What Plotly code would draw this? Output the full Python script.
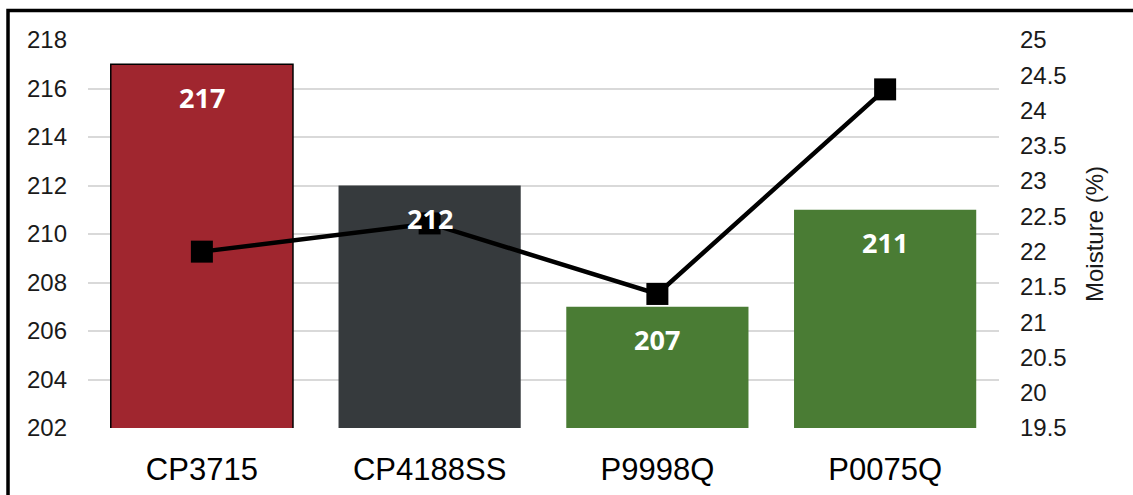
import plotly.graph_objects as go

categories = ["CP3715", "CP4188SS", "P9998Q", "P0075Q"]
yield_values = [217, 212, 207, 211]
moisture_values = [22.0, 22.4, 21.4, 24.3]
bar_colors = ["#A0262F", "#363A3D", "#4A7C34", "#4A7C34"]
bar_outline = [1.5, 0, 0, 0]

left_ticks = list(range(202, 219, 2))
right_ticks = [19.5 + 0.5 * i for i in range(12)]

fig = go.Figure()
fig.add_trace(go.Bar(
    x=categories, y=yield_values,
    marker=dict(color=bar_colors, line=dict(color="black", width=bar_outline)),
    width=0.8, yaxis="y", showlegend=False, hoverinfo="skip",
))
fig.add_trace(go.Scatter(
    x=categories, y=moisture_values, yaxis="y2", mode="lines+markers",
    line=dict(color="black", width=4.5),
    marker=dict(symbol="square", size=22, color="black"),
    showlegend=False,
))

for c, v in zip(categories, yield_values):
    fig.add_annotation(x=c, y=v, xref="x", yref="y", text=f"<b>{v}</b>",
                       showarrow=False, yshift=-33,
                       font=dict(family="Open Sans", size=27, color="white"))

fig.add_shape(type="rect", xref="paper", yref="paper",
              x0=-0.0878, x1=1.3, y0=-0.5, y1=1.076,
              line=dict(color="black", width=3.5), fillcolor="rgba(0,0,0,0)")

tick_font = dict(family="Liberation Sans, Arial", size=24, color="#1a1a1a")
fig.update_layout(
    width=1133, height=495,
    margin=dict(l=88, r=134, t=40, b=67),
    paper_bgcolor="white", plot_bgcolor="white",
    bargap=0.2,
    xaxis=dict(showgrid=False, showline=False, ticks="", automargin=False,
               tickfont=dict(family="Liberation Sans, Arial", size=31, color="black"),
               ticklabelstandoff=20),
    yaxis=dict(range=[202, 218], tickvals=left_ticks, showgrid=True, automargin=False,
               gridcolor="#D9D9D9", gridwidth=1.5, zeroline=False, showline=False,
               tickfont=tick_font, ticklabelstandoff=20),
    yaxis2=dict(range=[19.5, 25], tickvals=right_ticks, overlaying="y", side="right",
                showgrid=False, zeroline=False, showline=False, automargin=False,
                tickfont=tick_font, ticklabelstandoff=20,
                title=dict(text="Moisture (%)", standoff=20,
                           font=dict(family="Liberation Sans, Arial", size=24, color="#1a1a1a"))),
)

fig.write_html("out.html", config={"displayModeBar": False},
               post_script="document.body.style.margin='0';document.body.style.overflow='hidden';")
